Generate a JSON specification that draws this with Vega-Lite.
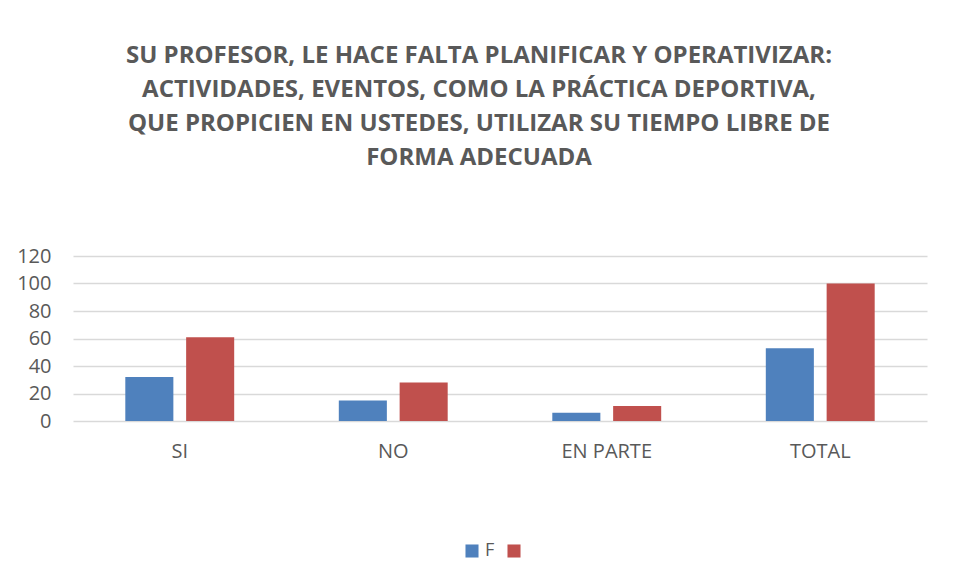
{
  "$schema": "https://vega.github.io/schema/vega-lite/v6.json",
  "width": 854,
  "height": 165,
  "autosize": {"type": "none"},
  "padding": {"left": 73, "top": 256, "right": 30, "bottom": 161},
  "background": "white",
  "title": {
    "text": ["SU PROFESOR, LE HACE FALTA PLANIFICAR Y OPERATIVIZAR:", "ACTIVIDADES, EVENTOS, COMO LA PRÁCTICA DEPORTIVA,", "QUE PROPICIEN EN USTEDES, UTILIZAR SU TIEMPO LIBRE DE", "FORMA ADECUADA"],
    "anchor": "middle",
    "frame": "group",
    "dx": -21,
    "offset": 76,
    "font": "Open Sans",
    "fontSize": 24,
    "fontWeight": "bold",
    "color": "#595959",
    "lineHeight": 34
  },
  "data": {
    "values": [
      {"categoria": "SI", "serie": "F", "valor": 32},
      {"categoria": "SI", "serie": "%", "valor": 61},
      {"categoria": "NO", "serie": "F", "valor": 15},
      {"categoria": "NO", "serie": "%", "valor": 28},
      {"categoria": "EN PARTE", "serie": "F", "valor": 6},
      {"categoria": "EN PARTE", "serie": "%", "valor": 11},
      {"categoria": "TOTAL", "serie": "F", "valor": 53},
      {"categoria": "TOTAL", "serie": "%", "valor": 100}
    ]
  },
  "mark": {"type": "bar"},
  "encoding": {
    "x": {
      "field": "categoria",
      "type": "nominal",
      "sort": ["SI", "NO", "EN PARTE", "TOTAL"],
      "scale": {"paddingInner": 0.49, "paddingOuter": 0.245},
      "axis": {
        "title": null,
        "labelAngle": 0,
        "ticks": false,
        "domain": false,
        "labelPadding": 20,
        "labelFont": "Open Sans",
        "labelFontSize": 20,
        "labelColor": "#595959"
      }
    },
    "xOffset": {
      "field": "serie",
      "type": "nominal",
      "sort": ["F", "%"],
      "scale": {"paddingInner": 0.21, "paddingOuter": 0}
    },
    "y": {
      "field": "valor",
      "type": "quantitative",
      "scale": {"domain": [0, 120]},
      "axis": {
        "title": null,
        "values": [0, 20, 40, 60, 80, 100, 120],
        "ticks": false,
        "domain": false,
        "labelPadding": 22,
        "labelFont": "Open Sans",
        "labelFontSize": 20,
        "labelColor": "#595959",
        "gridColor": "#D9D9D9",
        "gridWidth": 1.5
      }
    },
    "color": {
      "field": "serie",
      "type": "nominal",
      "sort": ["F", "%"],
      "scale": {"domain": ["F", "%"], "range": ["#4F81BD", "#C0504D"]},
      "legend": {
        "title": null,
        "orient": "none",
        "legendX": 390,
        "legendY": 286,
        "direction": "horizontal",
        "symbolType": "square",
        "symbolSize": 170,
        "symbolStrokeWidth": 0,
        "labelExpr": "datum.label == 'F' ? 'F' : ''",
        "labelFont": "Open Sans",
        "labelFontSize": 18,
        "labelColor": "#595959",
        "columnPadding": 10,
        "padding": 0
      }
    }
  },
  "config": {"view": {"stroke": null}}
}
